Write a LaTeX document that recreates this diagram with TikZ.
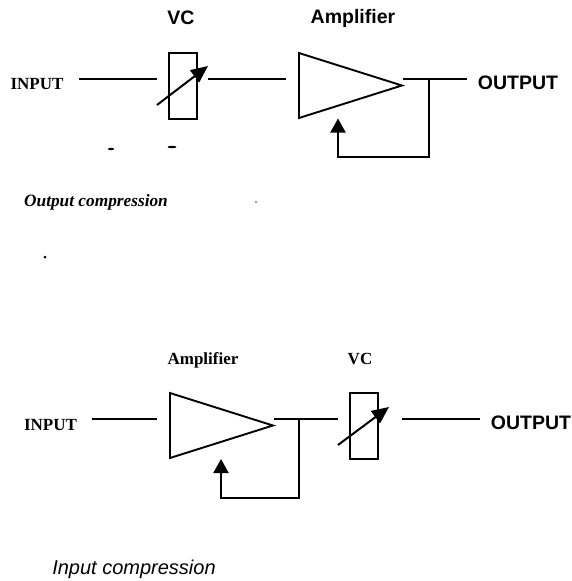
\documentclass[tikz,border=0pt]{standalone}
\usepackage{fontspec}
\setmainfont{Liberation Serif}
\setsansfont{Liberation Sans}
\usetikzlibrary{shapes}
\usetikzlibrary{positioning}
\usetikzlibrary{arrows.meta}
\tikzset{
    myvc/.style = {rectangle, line width=2pt, draw=black, inner sep=0pt, minimum width=28pt, minimum height=66pt},
    myamp/.style = {isosceles triangle, isosceles triangle stretches, shape border rotate=0, line width=1.9pt, draw=black, inner sep=0pt, minimum width=65pt, minimum height=103pt, anchor=lower side},
    mylabels/.style = {font=\sffamily\bfseries\fontsize{19.5}{22}\selectfont,text=black,inner sep=0pt},
    mylabelr/.style = {font=\rmfamily\bfseries\fontsize{17}{20}\selectfont,text=black,inner sep=0pt},
    edgen/.style = {-,line width=2pt,black},
    edgef/.style = {-{Triangle[length=14pt,width=15pt]},line width=2pt,black,line join=miter},
    edgev/.style = {-{Triangle[length=17pt,width=15pt]},line width=2pt,black},
    speck/.style = {ellipse, fill=black, inner sep=0pt, minimum width=6pt, minimum height=2.5pt}
}
\begin{document}
\begin{tikzpicture}[x=1pt,y=-1pt]
\path[use as bounding box] (0,0) rectangle (572,581);
% output compression
\node[myvc] at (182.5,85.5) (vca) {};
\node[myamp] at (298,85.5) (ampa) {};
\node[mylabels] at (181,18) (vcatxt) {VC};
\node[mylabels] at (353,18) (ampatxt) {Amplifier};
\node[mylabelr] at (37,84) (ina) {INPUT};
\node[mylabels] at (518,83) (outa) {OUTPUT};
\node[mylabelr, font=\rmfamily\bfseries\itshape\fontsize{17.3}{20}\selectfont] at (96,202) (capa) {Output compression};
\coordinate (a1) at (79,79);
\coordinate (a2) at (157,79);
\coordinate (a3) at (208,79);
\coordinate (a4) at (286,79);
\coordinate (a5) at (403,79);
\coordinate (a6) at (467,79);
\coordinate (a7) at (428.5,79);
\coordinate (a8) at (338,157);
\coordinate (a9) at (338,118.5);
\coordinate (a10) at (157,105);
\coordinate (a11) at (208,66);
%
\draw[edgen] (a1) -- (a2);
\draw[edgen] (a3) -- (a4);
\draw[edgen] (a5) -- (a6);
\draw[edgef] (a7) |- (a8) -- (a9);
\draw[edgev] (a10) -- (a11);

% input compression
\node[myamp] at (169,425.5) (ampb) {};
\node[myvc] at (363.5,425.5) (vcb) {};
\node[mylabelr] at (203,360) (ampbtxt) {Amplifier};
\node[mylabelr] at (360,359) (vcbtxt) {VC};
\node[mylabelr] at (50.5,425) (inb) {INPUT};
\node[mylabels] at (531,423) (outb) {OUTPUT};
\node[font=\sffamily\itshape\fontsize{20}{24}\selectfont,inner sep=0pt] at (134,569) (capb) {Input compression};
\coordinate (b1) at (91.5,419);
\coordinate (b2) at (157,419);
\coordinate (b3) at (274,419);
\coordinate (b4) at (338,419);
\coordinate (b5) at (402,419);
\coordinate (b6) at (480,419);
\coordinate (b7) at (299,419);
\coordinate (b8) at (221,498);
\coordinate (b9) at (221,459);
\coordinate (b10) at (338,445);
\coordinate (b11) at (389,407);
%
\draw[edgen] (b1) -- (b2);
\draw[edgen] (b3) -- (b4);
\draw[edgen] (b5) -- (b6);
\draw[edgef] (b7) |- (b8) -- (b9);
\draw[edgev] (b10) -- (b11);

% scan marks
\node[speck] at (111,149) (sa) {};
\node[speck, minimum width=9pt] at (172,147) (sb) {};
\node[speck, minimum width=2pt, fill=gray] at (256,202) (sc) {};
\node[speck, minimum width=3pt, minimum height=3pt] at (45,257) (sd) {};
\end{tikzpicture}
\end{document}
